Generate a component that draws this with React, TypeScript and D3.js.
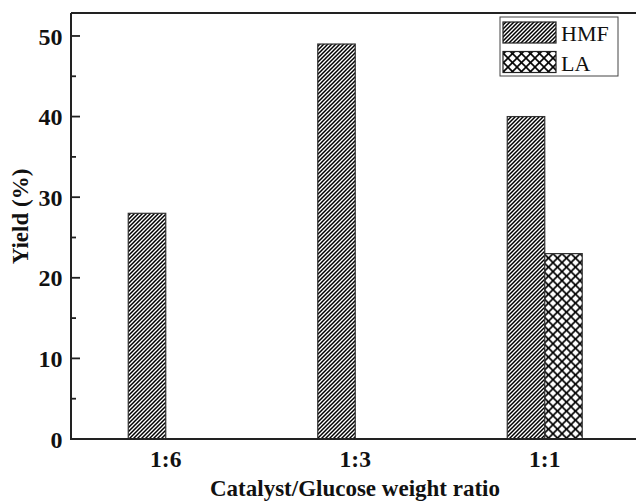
import React from "react";
import * as d3 from "d3";

const categories = ["1:6", "1:3", "1:1"];
const hmfYield = [28, 49, 40];
const laYield: (number | null)[] = [null, null, 23];
const yTicks = [0, 10, 20, 30, 40, 50];
const seriesNames = ["HMF", "LA"];

const W = 636;
const H = 502;
const margin = {top: 13, right: -3.5, bottom: 63, left: 71};
const font = "'Liberation Serif', 'Times New Roman', serif";

const App = () => {
    const x = d3
        .scaleBand()
        .domain(categories)
        .range([margin.left, W - margin.right]);

    const y = d3
        .scaleLinear()
        .domain([0, 52.85])
        .range([H - margin.bottom, margin.top]);

    const barW = 37.5;
    const minor = d3.range(5, 55, 10);

    return (
        <svg width={W} height={H} style={{position: "absolute", left: 0, top: 0, background: "#fff"}}>
            <defs>
                {/* diagonal "/" hatch */}
                <pattern id="hmf" patternUnits="userSpaceOnUse" width={4} height={4}>
                    <rect width={4} height={4} fill="#fff"/>
                    <path d="M-1,1 L1,-1 M0,4 L4,0 M3,5 L5,3" stroke="#000" strokeWidth={1.5}/>
                </pattern>
                {/* cross hatch */}
                <pattern id="la" patternUnits="userSpaceOnUse" width={9} height={9} x={544} y={253.6}>
                    <rect width={9} height={9} fill="#fff"/>
                    <path d="M0,0 L9,9 M9,0 L0,9" stroke="#000" strokeWidth={1.6}/>
                </pattern>
            </defs>

            {/* bars */}
            {categories.map((c, i) => {
                const cx = x(c)! + x.bandwidth() / 2;
                const la = laYield[i];
                return (
                    <g key={c}>
                        <rect x={cx - barW} y={y(hmfYield[i])} width={barW}
                              height={y(0) - y(hmfYield[i])}
                              fill="url(#hmf)" stroke="#333" strokeWidth={1.2}/>
                        {la != null && (
                            <rect x={cx} y={y(la)} width={barW} height={y(0) - y(la)}
                                  fill="url(#la)" stroke="#333" strokeWidth={1.2}/>
                        )}
                    </g>
                );
            })}

            {/* axes frame */}
            <line x1={margin.left} y1={margin.top} x2={W} y2={margin.top} stroke="#222" strokeWidth={2}/>
            <line x1={margin.left} y1={margin.top} x2={margin.left} y2={y(0)} stroke="#222" strokeWidth={2}/>
            <line x1={margin.left - 1} y1={y(0)} x2={W} y2={y(0)} stroke="#222" strokeWidth={2.2}/>

            {/* y ticks */}
            {yTicks.map(t => (
                <g key={t}>
                    <line x1={margin.left} x2={margin.left + 9} y1={y(t)} y2={y(t)} stroke="#222" strokeWidth={1.8}/>
                    <text x={62.5} y={y(t)} dy="0.36em" textAnchor="end" fontFamily={font}
                          fontWeight="bold" fontSize={24} fill="#111">{t}</text>
                </g>
            ))}
            {minor.map(t => (
                <line key={t} x1={margin.left} x2={margin.left + 5} y1={y(t)} y2={y(t)}
                      stroke="#222" strokeWidth={1.8}/>
            ))}

            {/* x labels */}
            {categories.map(c => (
                <text key={c} x={x(c)! + x.bandwidth() / 2} y={467} textAnchor="middle"
                      fontFamily={font} fontWeight="bold" fontSize={23.5} fill="#111">{c}</text>
            ))}

            <text x={355} y={496} textAnchor="middle" fontFamily={font} fontWeight="bold"
                  fontSize={23} fill="#111">Catalyst/Glucose weight ratio</text>
            <text transform="translate(28,216.5) rotate(-90)" textAnchor="middle"
                  fontFamily={font} fontWeight="bold" fontSize={23} fill="#111">Yield (%)</text>

            {/* legend */}
            <g>
                <rect x={500} y={17} width={118} height={59} fill="#fff" stroke="#444" strokeWidth={1}/>
                {seriesNames.map((s, i) => (
                    <g key={s} transform={`translate(0,${i * 29.5})`}>
                        <rect x={503} y={22} width={53} height={21} fill={i === 0 ? "url(#hmf)" : "url(#la)"}
                              stroke="#222" strokeWidth={1.2}/>
                        <text x={561} y={41} fontFamily={font} fontSize={22} fill="#111">{s}</text>
                    </g>
                ))}
            </g>
        </svg>
    );
};

export default App;
